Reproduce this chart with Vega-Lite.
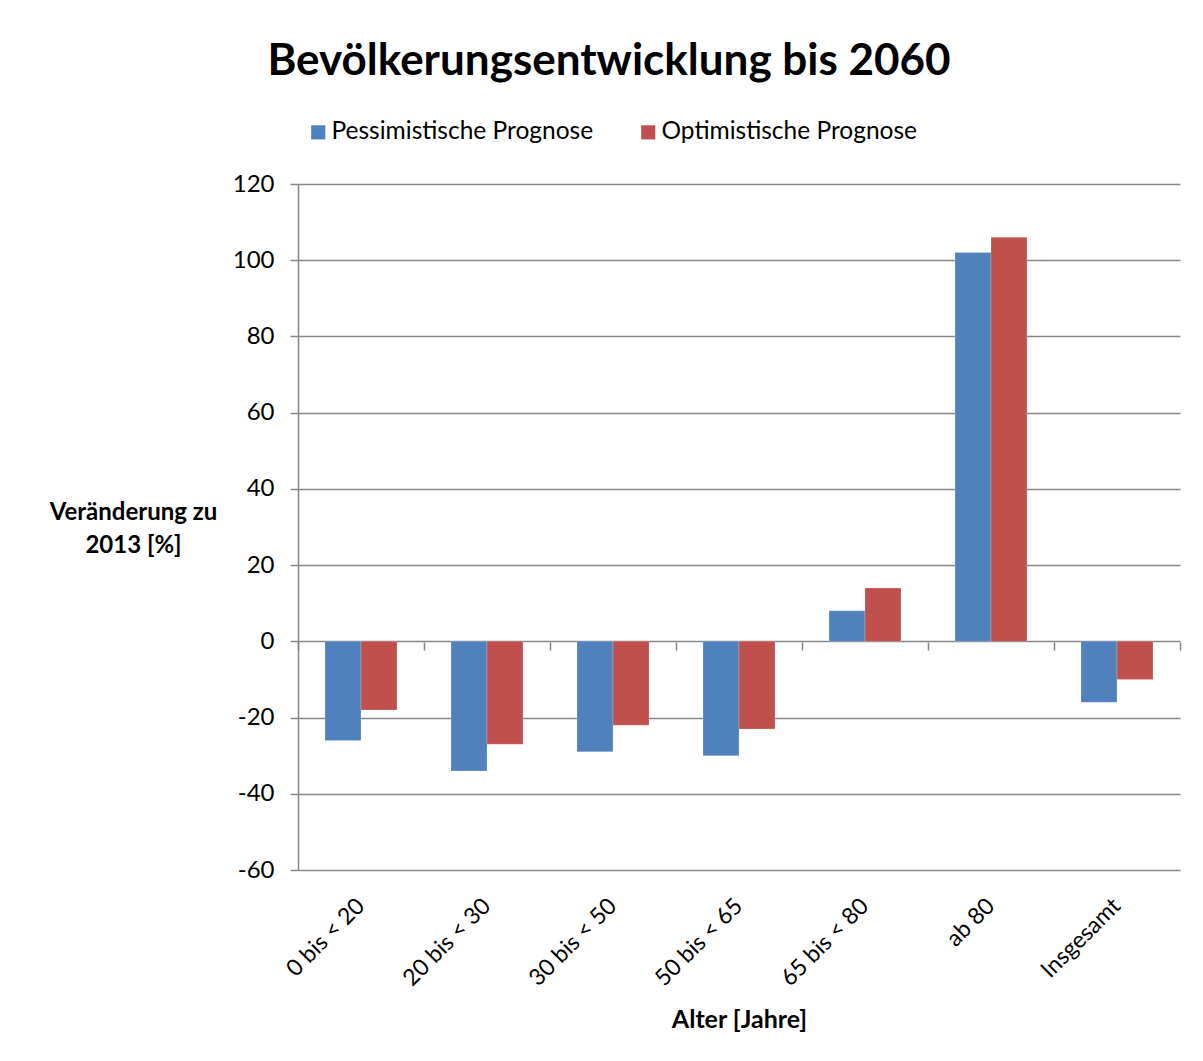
{
  "$schema": "https://vega.github.io/schema/vega-lite/v6.json",
  "autosize": "none",
  "width": 882,
  "height": 686,
  "padding": {"left": 298, "top": 184, "right": 23, "bottom": 191},
  "background": "white",
  "title": {
    "text": "Bevölkerungsentwicklung bis 2060",
    "font": "Lato",
    "fontSize": 44,
    "fontWeight": "bold",
    "color": "black",
    "anchor": "middle",
    "frame": "group",
    "baseline": "alphabetic",
    "dx": -130,
    "dy": 270,
    "offset": 0
  },
  "data": {
    "values": [
      {"Alter": "0 bis < 20", "Prognose": "Pessimistische Prognose", "Wert": -26},
      {"Alter": "0 bis < 20", "Prognose": "Optimistische Prognose", "Wert": -18},
      {"Alter": "20 bis < 30", "Prognose": "Pessimistische Prognose", "Wert": -34},
      {"Alter": "20 bis < 30", "Prognose": "Optimistische Prognose", "Wert": -27},
      {"Alter": "30 bis < 50", "Prognose": "Pessimistische Prognose", "Wert": -29},
      {"Alter": "30 bis < 50", "Prognose": "Optimistische Prognose", "Wert": -22},
      {"Alter": "50 bis < 65", "Prognose": "Pessimistische Prognose", "Wert": -30},
      {"Alter": "50 bis < 65", "Prognose": "Optimistische Prognose", "Wert": -23},
      {"Alter": "65 bis < 80", "Prognose": "Pessimistische Prognose", "Wert": 8},
      {"Alter": "65 bis < 80", "Prognose": "Optimistische Prognose", "Wert": 14},
      {"Alter": "ab 80", "Prognose": "Pessimistische Prognose", "Wert": 102},
      {"Alter": "ab 80", "Prognose": "Optimistische Prognose", "Wert": 106},
      {"Alter": "Insgesamt", "Prognose": "Pessimistische Prognose", "Wert": -16},
      {"Alter": "Insgesamt", "Prognose": "Optimistische Prognose", "Wert": -10}
    ]
  },
  "config": {
    "font": "Lato",
    "view": {"stroke": null},
    "axis": {"labelColor": "black", "titleColor": "black", "labelFont": "Lato", "titleFont": "Lato"}
  },
  "resolve": {"axis": {"x": "independent"}, "scale": {"x": "independent"}},
  "layer": [
    {
      "mark": {"type": "bar", "stroke": "white", "strokeWidth": 0.5, "strokeOpacity": 0.4},
      "encoding": {
        "x": {
          "field": "Alter",
          "type": "nominal",
          "sort": null,
          "scale": {"paddingInner": 0.4286, "paddingOuter": 0.2143},
          "axis": {
            "orient": "bottom",
            "title": "Alter [Jahre]",
            "titleFontSize": 25,
            "titleFontWeight": "bold",
            "titleBaseline": "alphabetic",
            "titleY": 157,
            "domain": false,
            "ticks": false,
            "labelAngle": -45,
            "labelAlign": "right",
            "labelBaseline": "middle",
            "labelPadding": 32,
            "labelFontSize": 23
          }
        },
        "xOffset": {"field": "Prognose", "type": "nominal", "sort": ["Pessimistische Prognose", "Optimistische Prognose"], "scale": {"paddingInner": 0, "paddingOuter": 0}},
        "y": {
          "field": "Wert",
          "type": "quantitative",
          "scale": {"domain": [-60, 120], "nice": false, "zero": false},
          "axis": {
            "values": [-60, -40, -20, 0, 20, 40, 60, 80, 100, 120],
            "labelExpr": "toString(datum.value)",
            "title": ["Veränderung zu", "2013 [%]"],
            "titleAngle": 0,
            "titleAlign": "center",
            "titleBaseline": "alphabetic",
            "titleX": -165,
            "titleY": 335,
            "titleLineHeight": 33,
            "titleFontSize": 24,
            "titleFontWeight": "bold",
            "labelFontSize": 24,
            "labelPadding": 16,
            "tickSize": 8,
            "tickColor": "#878787",
            "tickWidth": 1.5,
            "domainColor": "#878787",
            "domainWidth": 1.5,
            "gridColor": "#878787",
            "gridWidth": 1.5,
            "gridOpacity": 1
          }
        },
        "color": {
          "field": "Prognose",
          "type": "nominal",
          "sort": ["Pessimistische Prognose", "Optimistische Prognose"],
          "scale": {"domain": ["Pessimistische Prognose", "Optimistische Prognose"], "range": ["#4F81BD", "#C0504D"]},
          "legend": {
            "title": null,
            "orient": "none",
            "legendX": 8,
            "legendY": -64,
            "direction": "horizontal",
            "symbolType": "square",
            "symbolSize": 200,
            "symbolStrokeWidth": 0,
            "labelFontSize": 24.5,
            "labelLimit": 0,
            "labelColor": "black",
            "labelOffset": 1,
            "columnPadding": 42
          }
        }
      }
    },
    {
      "mark": {"type": "bar", "opacity": 0},
      "encoding": {
        "x": {
          "field": "Alter",
          "type": "nominal",
          "sort": null,
          "scale": {"paddingInner": 0, "paddingOuter": 0},
          "axis": {
            "orient": "bottom",
            "offset": -228,
            "labels": false,
            "title": null,
            "domain": false,
            "ticks": true,
            "tickBand": "extent",
            "tickSize": 8,
            "tickColor": "#878787",
            "tickWidth": 1.5
          }
        },
        "y": {"field": "Wert", "type": "quantitative"}
      }
    }
  ]
}
